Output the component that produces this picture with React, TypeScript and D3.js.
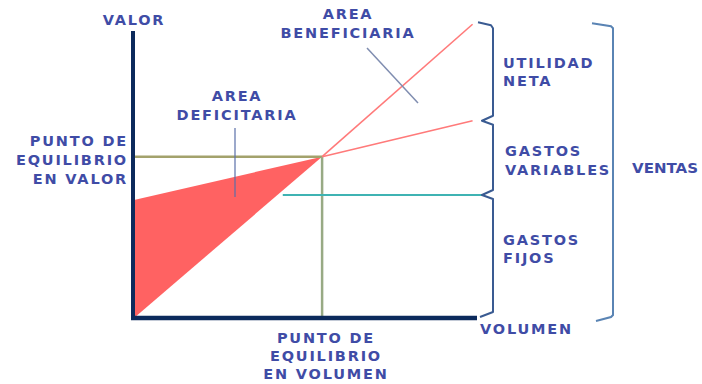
import React from "react";
import * as d3 from "d3";

// ---- data (chart units: volume 0..100, value 0..100) ----
const salesLine: [number, number][] = [[0, 0], [55, 56], [99, 102]];
const totalCostLine: [number, number][] = [[0, 41], [55, 56], [99, 68.5]];
const fixedCostLine: [number, number][] = [[43.5, 42.7], [102.5, 42.7]];
const breakEven: [number, number] = [55, 56];
const axisLabels = {
  yAxis: "VALOR",
  xAxis: "VOLUMEN",
};
const peValor = ["PUNTO DE", "EQUILIBRIO", "EN VALOR"];
const peVolumen = ["PUNTO DE", "EQUILIBRIO", "EN VOLUMEN"];
const areaDef = ["AREA", "DEFICITARIA"];
const areaBen = ["AREA", "BENEFICIARIA"];
const utilidad = ["UTILIDAD", "NETA"];
const gastosVar = ["GASTOS", "VARIABLES"];
const gastosFijos = ["GASTOS", "FIJOS"];
const ventas = "VENTAS";

const W = 702, H = 384;
const x = d3.scaleLinear().domain([0, 100]).range([134, 476]);
const y = d3.scaleLinear().domain([0, 100]).range([318, 30]);

const TEXT = "#3f4ca6";
const NAVY = "#0c2a5c";
const BRACE = "#3a5b92";

const line = d3.line<[number, number]>().x(d => x(d[0])).y(d => y(d[1]));

function Lines({ lines, x0, y0, dy, anchor }: { lines: string[]; x0: number; y0: number; dy: number; anchor: string }) {
  return (
    <g>
      {lines.map((t, i) => (
        <text key={i} x={x0} y={y0 + i * dy} textAnchor={anchor}>{t}</text>
      ))}
    </g>
  );
}

export default function App() {
  const [bx, by] = [x(breakEven[0]), y(breakEven[1])];
  const fillPoly = [salesLine[0], breakEven, totalCostLine[0]];
  const fillPath = "M" + fillPoly.map(p => `${x(p[0])},${y(p[1])}`).join("L") + "Z";

  const yTopSales = y(salesLine[2][1]);
  const yCost = y(totalCostLine[2][1]);
  const yFixed = y(fixedCostLine[0][1]);
  const yBase = y(0);
  const bxv = 493;
  const tip = 11;
  const bracePath =
    `M${bxv - 15},${yTopSales - 2} L${bxv - 2},${yTopSales + 1} L${bxv},${yTopSales + 4}` +
    ` L${bxv},${yCost - 5} L${bxv - tip},${yCost} L${bxv},${yCost + 4}` +
    ` L${bxv},${yFixed - 5} L${bxv - tip},${yFixed} L${bxv},${yFixed + 4}` +
    ` L${bxv},${yBase - 6} L${bxv - 13},${yBase - 1}`;
  const rx = 613;
  const rightPath = `M${rx - 21},${yTopSales - 1} L${rx - 2},${yTopSales + 2} L${rx},${yTopSales + 4} L${rx},${yBase - 3} L${rx - 2},${yBase - 1} L${rx - 17},${yBase + 3}`;

  return (
    <svg width={W} height={H} style={{ position: "absolute", left: 0, top: 0, background: "#fff" }}
      fontFamily="DejaVu Sans, Verdana, sans-serif" fontWeight="bold" fontSize={14.5} letterSpacing={1.8}>
      {/* loss area */}
      <path d={fillPath} fill="#ff6262" />
      {/* break-even guides */}
      <line x1={x(0)} x2={bx} y1={by} y2={by} stroke="#a3a26c" strokeWidth={2.5} />
      <line x1={bx} x2={bx} y1={by} y2={yBase} stroke="#98aa84" strokeWidth={2.5} />
      {/* fixed cost */}
      <path d={line(fixedCostLine) || ""} stroke="#3fb3b3" strokeWidth={2} fill="none" />
      {/* sales & total cost lines */}
      <path d={line([breakEven, salesLine[2]]) || ""} stroke="#ff7a7a" strokeWidth={1.6} fill="none" />
      <path d={line([breakEven, totalCostLine[2]]) || ""} stroke="#ff7a7a" strokeWidth={1.6} fill="none" />
      {/* pointers */}
      <line x1={235} x2={235} y1={128} y2={197} stroke="#5a6fa8" strokeWidth={1.2} />
      <line x1={367} y1={48} x2={418} y2={103} stroke="#7f8db0" strokeWidth={1.5} />
      {/* axes */}
      <line x1={x(0) - 1} x2={x(0) - 1} y1={31} y2={yBase + 2} stroke={NAVY} strokeWidth={4} />
      <line x1={x(0) - 3} x2={477} y1={yBase} y2={yBase} stroke={NAVY} strokeWidth={4.5} />
      {/* braces */}
      <path d={bracePath} stroke={BRACE} strokeWidth={2} fill="none" strokeLinejoin="round" />
      <path d={rightPath} stroke="#5a84b4" strokeWidth={2} fill="none" />
      {/* labels */}
      <g fill={TEXT}>
        <text x={134} y={25} textAnchor="middle">{axisLabels.yAxis}</text>
        <text x={480} y={334}>{axisLabels.xAxis}</text>
        <Lines lines={peValor} x0={128} y0={146} dy={19} anchor="end" />
        <Lines lines={peVolumen} x0={326} y0={343} dy={18} anchor="middle" />
        <Lines lines={areaDef} x0={237} y0={101} dy={19} anchor="middle" />
        <Lines lines={areaBen} x0={348} y0={19} dy={19} anchor="middle" />
        <Lines lines={utilidad} x0={503} y0={68} dy={18} anchor="start" />
        <Lines lines={gastosVar} x0={505} y0={156} dy={19} anchor="start" />
        <Lines lines={gastosFijos} x0={503} y0={245} dy={18} anchor="start" />
        <text x={632} y={173} letterSpacing={0} textLength={66} lengthAdjust="spacingAndGlyphs">{ventas}</text>
      </g>
    </svg>
  );
}
